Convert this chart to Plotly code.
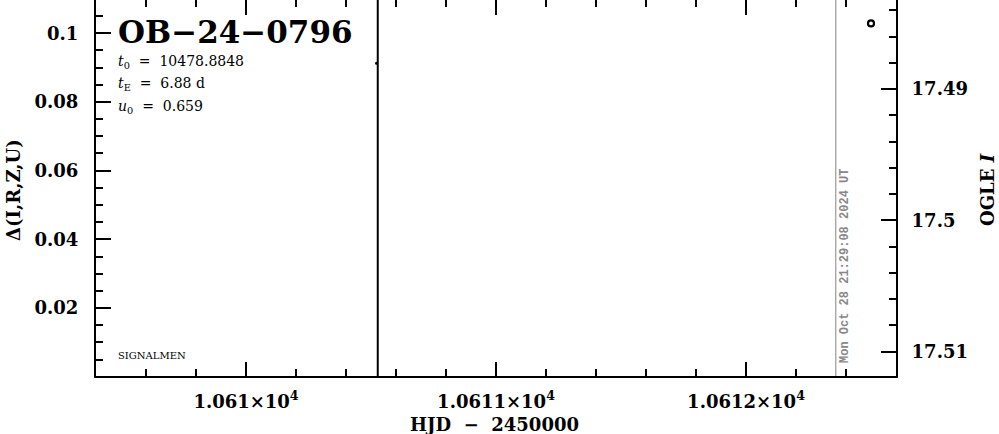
import plotly.graph_objects as go

# ---- data ----
event_name = "OB−24−0796"
t0_text = "10478.8848"
tE_text = "6.88 d"
u0_text = "0.659"
timestamp = "Mon Oct 28 21:29:08 2024 UT"

signalmen_hjd = [10610.527]
signalmen_delta = [0.0913]
ogle_hjd = [10612.50]
ogle_mag = [17.485]
now_hjd = 10612.359

x_range = [10609.4, 10612.6]
left_range = [0.0002, 0.1097]
right_range = [17.51185, 17.48322]

x_tickvals = [10610, 10611, 10612]
x_ticktext = ["1.061×10<sup>4</sup>", "1.0611×10<sup>4</sup>", "1.0612×10<sup>4</sup>"]
left_tickvals = [0.02, 0.04, 0.06, 0.08, 0.1]
left_ticktext = ["0.02", "0.04", "0.06", "0.08", "0.1"]
right_tickvals = [17.49, 17.5, 17.51]
right_ticktext = ["17.49", "17.5", "17.51"]

FONT = "DejaVu Serif"
tickfont = dict(family=FONT, size=18, color="black", weight="bold")

fig = go.Figure()

# SIGNALMEN vertical marker line (alert time)
fig.add_trace(go.Scatter(
    x=[signalmen_hjd[0], signalmen_hjd[0]], y=[left_range[0], left_range[1]],
    mode="lines", line=dict(color="black", width=2), showlegend=False, hoverinfo="skip"))
fig.add_trace(go.Scatter(
    x=[signalmen_hjd[0] - 0.005], y=signalmen_delta, mode="markers",
    marker=dict(color="black", size=3), showlegend=False))

# OGLE point on right axis
fig.add_trace(go.Scatter(
    x=ogle_hjd, y=ogle_mag, yaxis="y2", mode="markers",
    marker=dict(symbol="circle-open", size=6, color="black", line=dict(width=2.2, color="black")),
    showlegend=False))

# invisible trace to activate top axis
fig.add_trace(go.Scatter(x=x_range, y=[None, None], xaxis="x2", mode="markers",
                         showlegend=False, hoverinfo="skip"))

# current-time line
fig.add_shape(type="line", x0=now_hjd, x1=now_hjd, xref="x", y0=0, y1=1, yref="paper",
              line=dict(color="#999999", width=1.2))

fig.update_layout(
    width=999, height=434,
    margin=dict(l=96, r=103, t=0, b=58, autoexpand=False),
    plot_bgcolor="white", paper_bgcolor="white",
    showlegend=False,
    xaxis=dict(
        range=x_range, showgrid=False, zeroline=False, automargin=False,
        showline=True, linecolor="black", linewidth=2, mirror=False,
        ticks="inside", ticklen=14, tickwidth=2, tickcolor="black",
        tickvals=x_tickvals, ticktext=x_ticktext, tickfont=tickfont,
        ticklabelstandoff=8,
        minor=dict(ticks="inside", ticklen=7, tickwidth=2, tickcolor="black", dtick=0.2,
                   tick0=10610, showgrid=False),
    ),
    xaxis2=dict(
        range=x_range, overlaying="x", side="top", anchor="y", automargin=False,
        showgrid=False, zeroline=False, showline=False,
        ticks="inside", ticklen=15, tickwidth=2, tickcolor="black",
        tickvals=x_tickvals, showticklabels=False,
        minor=dict(ticks="inside", ticklen=7, tickwidth=2, tickcolor="black", dtick=0.2,
                   tick0=10610, showgrid=False),
    ),
    yaxis=dict(
        range=left_range, showgrid=False, zeroline=False, automargin=False,
        showline=True, linecolor="black", linewidth=2,
        ticks="inside", ticklen=15, tickwidth=2, tickcolor="black",
        tickvals=left_tickvals, ticktext=left_ticktext, tickfont=tickfont,
        ticklabelstandoff=12,
        minor=dict(ticks="inside", ticklen=7, tickwidth=2, tickcolor="black", dtick=0.005,
                   tick0=0, showgrid=False),
    ),
    yaxis2=dict(
        range=right_range, overlaying="y", side="right", anchor="x", automargin=False,
        showgrid=False, zeroline=False,
        showline=True, linecolor="black", linewidth=2,
        ticks="inside", ticklen=15, tickwidth=2, tickcolor="black",
        tickvals=right_tickvals, ticktext=right_ticktext, tickfont=tickfont,
        ticklabelstandoff=10,
        minor=dict(ticks="inside", ticklen=7, tickwidth=2, tickcolor="black", dtick=0.002,
                   tick0=17.49, showgrid=False),
    ),
)

ann = []
ann.append(dict(text=event_name, x=116, y=32,
                font=dict(family=FONT, size=31, color="black", weight="bold")))
pfont = dict(family=FONT, size=14, color="black")
ann.append(dict(text=f"<i>t</i><sub>0</sub>&nbsp;&nbsp;=&nbsp;&nbsp;{t0_text}", x=116, y=62))
ann.append(dict(text=f"<i>t</i><sub>E</sub>&nbsp;&nbsp;=&nbsp;&nbsp;{tE_text}", x=116, y=84))
ann.append(dict(text=f"<i>u</i><sub>0</sub>&nbsp;&nbsp;=&nbsp;&nbsp;{u0_text}", x=116, y=107))
ann.append(dict(text="SIGNALMEN", x=116, y=355,
                font=dict(family=FONT, size=10, color="black")))
ann.append(dict(text=timestamp, x=845, y=266, textangle=-90, xanchor="center",
                font=dict(family="Liberation Mono", size=12, color="#888888", weight="bold")))
ann.append(dict(text="Δ(I,R,Z,U)", x=14, y=190, textangle=-90, xanchor="center",
                font=dict(family=FONT, size=18, color="black", weight="bold")))
ann.append(dict(text="OGLE <i>I</i>", x=988, y=190, textangle=-90, xanchor="center",
                font=dict(family=FONT, size=18, color="black", weight="bold")))
ann.append(dict(text="HJD&nbsp;&nbsp;−&nbsp;&nbsp;2450000", x=494, y=424, xanchor="center",
                font=dict(family=FONT, size=18, color="black", weight="bold")))

PL, PR, PT, PB = 96, 896, 0, 376
annotations = []
for a in ann:
    d = dict(showarrow=False, xanchor="left", yanchor="middle", font=pfont)
    d.update(a)
    d["x"] = (a["x"] - PL) / (PR - PL)
    d["y"] = (PB - a["y"]) / (PB - PT)
    d["xref"] = "paper"
    d["yref"] = "paper"
    annotations.append(d)

fig.update_layout(annotations=annotations)
fig.write_html("out.html", config={"displayModeBar": False},
               post_script="document.body.style.margin='0px';")
